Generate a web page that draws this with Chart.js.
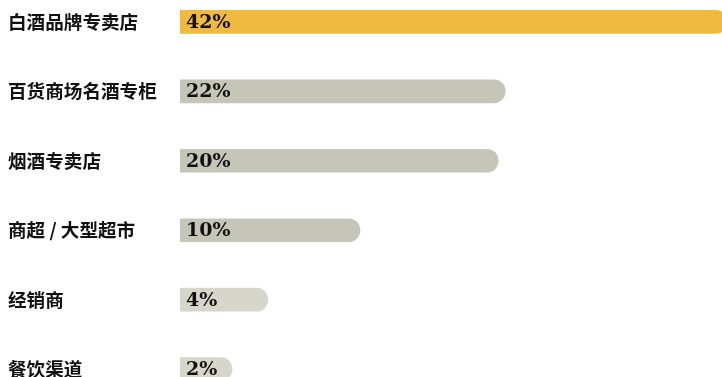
<!DOCTYPE html>
<html>
<head>
<meta charset="utf-8">
<script src="https://cdn.jsdelivr.net/npm/chart.js@4"></script>
<style>
  html, body { margin: 0; padding: 0; background: #fff; overflow: hidden; width: 722px; height: 377px; }
  #channels { position: absolute; left: 0; top: -24px; }
</style>
</head>
<body>
<canvas id="channels" width="722" height="439"></canvas>
<script>
const channels = [
    "白酒品牌专卖店",
    "百货商场名酒专柜",
    "烟酒专卖店",
    "商超 / 大型超市",
    "经销商",
    "餐饮渠道",
];
// printed shares
const shares = [42, 22, 20, 10, 4, 2];
// bar lengths as drawn (bar scale 0-100)
const barLengths = [101, 60, 58.7, 33.2, 16.2, 9.6];
const barColors = [
    "#F0BA41",
    "#C6C6B8",
    "#C6C6B8",
    "#C6C6B8",
    "#D6D6CA",
    "#D6D6CA",
];

const valueLabels = {
    id: "valueLabels",
    afterDatasetsDraw(chart) {
        const c = chart.ctx;
        const meta = chart.getDatasetMeta(0);
        c.save();
        c.font = 'bold 19px "DejaVu Serif"';
        c.fillStyle = "#111";
        c.textBaseline = "middle";
        c.textAlign = "left";
        meta.data.forEach((bar, i) => {
            c.fillText(shares[i] + "%", bar.base + 6, bar.y + 1);
        });
        c.restore();
    },
};

const ctx = document.getElementById("channels").getContext("2d");
const chart = new Chart(ctx, {
    type: "bar",
    data: {
        labels: channels,
        datasets: [{
            data: barLengths,
            backgroundColor: barColors,
            borderWidth: 0,
            borderRadius: 11.5,
            borderSkipped: "start",
            barThickness: 23,
        }, ],
    },
    options: {
        indexAxis: "y",
        responsive: false,
        animation: false,
        layout: {
            padding: { left: 8, right: 0, top: 0, bottom: 0 },
        },
        plugins: {
            legend: { display: false },
            tooltip: { enabled: false },
        },
        scales: {
            x: {
                display: false,
                min: 0,
                max: 100,
            },
            y: {
                grid: { display: false },
                border: { display: false },
                afterFit: function(scale) {
                    scale.width = 172;
                },
                ticks: {
                    crossAlign: "far",
                    color: "#111",
                    padding: 0,
                    font: {
                        family: '"Noto Sans CJK SC"',
                        size: 18.6,
                        weight: "bold",
                    },
                },
            },
        },
    },
    plugins: [valueLabels],
});
</script>
</body>
</html>
